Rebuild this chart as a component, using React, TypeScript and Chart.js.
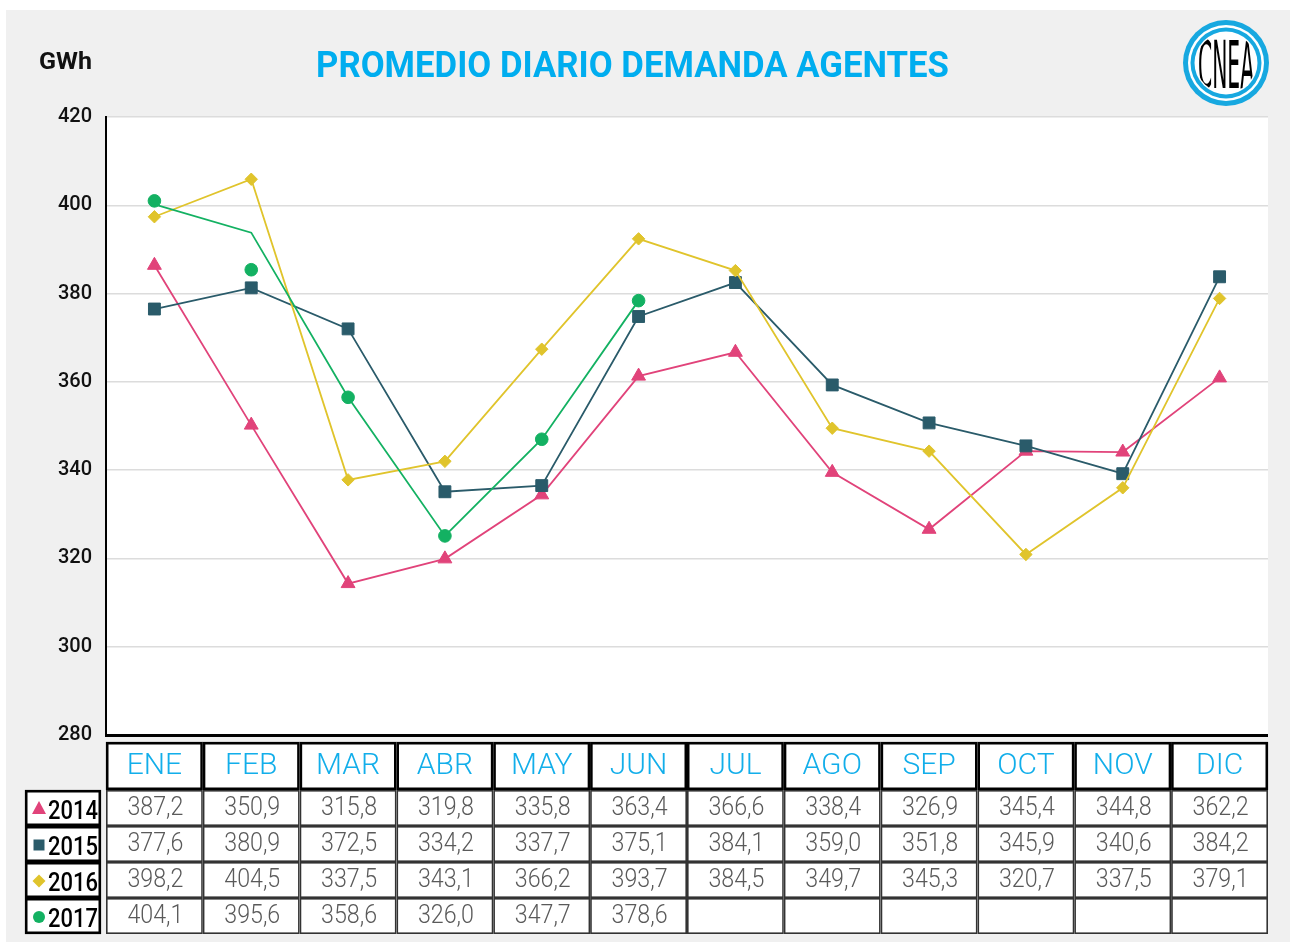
import React, { useEffect, useRef } from "react";
import { Chart, registerables } from "chart.js";

Chart.register(...registerables);

const TITLE = "PROMEDIO DIARIO DEMANDA AGENTES";
const UNIT = "GWh";
const LOGO_TEXT = "CNEA";

const MONTHS = ["ENE", "FEB", "MAR", "ABR", "MAY", "JUN", "JUL", "AGO", "SEP", "OCT", "NOV", "DIC"];
const YEARS = ["2014", "2015", "2016", "2017"];

// Values printed in the table
const TABLE_2014 = ["387,2", "350,9", "315,8", "319,8", "335,8", "363,4", "366,6", "338,4", "326,9", "345,4", "344,8", "362,2"];
const TABLE_2015 = ["377,6", "380,9", "372,5", "334,2", "337,7", "375,1", "384,1", "359,0", "351,8", "345,9", "340,6", "384,2"];
const TABLE_2016 = ["398,2", "404,5", "337,5", "343,1", "366,2", "393,7", "384,5", "349,7", "345,3", "320,7", "337,5", "379,1"];
const TABLE_2017 = ["404,1", "395,6", "358,6", "326,0", "347,7", "378,6", "", "", "", "", "", ""];

// Values as plotted in the chart
const PLOT_2014 = [386.4, 350.2, 314.3, 319.9, 334.4, 361.3, 366.7, 339.5, 326.6, 344.3, 344.1, 360.9];
const PLOT_2015 = [376.5, 381.3, 372.0, 335.1, 336.5, 374.8, 382.5, 359.3, 350.7, 345.5, 339.2, 383.8];
const PLOT_2016 = [397.4, 405.9, 337.8, 342.0, 367.4, 392.4, 385.2, 349.5, 344.3, 320.9, 336.0, 378.9];
const PLOT_2017_LINE = [400.2, 393.8, 356.5, 325.1, 347.0, 378.4];
const PLOT_2017_MARKERS = [401.0, 385.4, 356.5, 325.1, 347.0, 378.4];

const Y_MIN = 280;
const Y_MAX = 420;
const Y_STEP = 20;

const PINK = "#e1437a";
const TEAL = "#2a5b6a";
const YELLOW = "#e0c42c";
const GREEN = "#13b162";
const CYAN = "#12aeea";

const TABLES = [TABLE_2014, TABLE_2015, TABLE_2016, TABLE_2017];
const YEAR_COLORS = [PINK, TEAL, YELLOW, GREEN];
const YEAR_STYLES = ["triangle", "rect", "rectRot", "circle"];

function textFit(ctx: CanvasRenderingContext2D, text: string, x: number, y: number, font: string, color: string, align: CanvasTextAlign, width?: number) {
  ctx.save();
  ctx.font = font;
  ctx.fillStyle = color;
  ctx.textAlign = align;
  ctx.textBaseline = "alphabetic";
  ctx.translate(x, y);
  if (width) {
    const w = ctx.measureText(text).width;
    if (w > 0) ctx.scale(width / w, 1);
  }
  ctx.fillText(text, 0, 0);
  ctx.restore();
}

function marker(ctx: CanvasRenderingContext2D, style: string, x: number, y: number, color: string) {
  ctx.save();
  ctx.fillStyle = color;
  ctx.beginPath();
  if (style === "triangle") {
    ctx.moveTo(x, y - 8);
    ctx.lineTo(x + 7, y + 5);
    ctx.lineTo(x - 7, y + 5);
    ctx.closePath();
  } else if (style === "rect") {
    ctx.rect(x - 5.5, y - 5.5, 11, 11);
  } else if (style === "rectRot") {
    ctx.moveTo(x, y - 6.5);
    ctx.lineTo(x + 6.5, y);
    ctx.lineTo(x, y + 6.5);
    ctx.lineTo(x - 6.5, y);
    ctx.closePath();
  } else {
    ctx.arc(x, y, 6, 0, Math.PI * 2);
  }
  ctx.fill();
  ctx.restore();
}

const backgroundPlugin = {
  id: "pageBackground",
  beforeDraw(chart: any) {
    const { ctx, chartArea: a, width, height } = chart;
    ctx.save();
    ctx.fillStyle = "#ffffff";
    ctx.fillRect(0, 0, width, height);
    ctx.fillStyle = "#f0f0f0";
    ctx.fillRect(6, 10, width - 6, height - 10);
    ctx.fillStyle = "#ffffff";
    ctx.fillRect(a.left, a.top, a.right - a.left, a.bottom - a.top);
    ctx.restore();
  },
};

const decorPlugin = {
  id: "decor",
  afterDraw(chart: any) {
    const { ctx, chartArea: a } = chart;
    const x = chart.scales.x;
    // Title and unit
    textFit(ctx, TITLE, 316, 77, "bold 36px Roboto", "#00adef", "left", 633);
    textFit(ctx, UNIT, 39, 69, "bold 24px Roboto", "#111111", "left", 53);

    // Logo
    const lx = 1226, ly = 63;
    ctx.save();
    ctx.beginPath(); ctx.arc(lx, ly, 43, 0, Math.PI * 2); ctx.fillStyle = "#17a8e0"; ctx.fill();
    ctx.beginPath(); ctx.arc(lx, ly, 38, 0, Math.PI * 2); ctx.fillStyle = "#ffffff"; ctx.fill();
    ctx.beginPath(); ctx.arc(lx, ly, 35.5, 0, Math.PI * 2); ctx.fillStyle = "#17a8e0"; ctx.fill();
    ctx.beginPath(); ctx.arc(lx, ly, 31.5, 0, Math.PI * 2); ctx.fillStyle = "#ffffff"; ctx.fill();
    ctx.beginPath(); ctx.arc(lx, ly, 30, 0, Math.PI * 2); ctx.clip();
    textFit(ctx, LOGO_TEXT, lx, ly + 25, "66px 'DejaVu Sans Condensed', Roboto", "#000000", "center", 56);
    ctx.restore();

    // Table
    const n = MONTHS.length;
    const colW = (x.right - x.left) / n;
    const top = a.bottom + 7;
    const headH = 48;
    const rowH = 36;
    ctx.save();
    MONTHS.forEach((m, i) => {
      const cx = x.getPixelForValue(i);
      const x0 = cx - colW / 2;
      ctx.fillStyle = "#ffffff";
      ctx.fillRect(x0, top, colW, headH);
      ctx.strokeStyle = "#000000";
      ctx.lineWidth = 2.6;
      ctx.strokeRect(x0 + 1.2, top + 1.2, colW - 2.4, headH - 2.4);
      textFit(ctx, m, cx, top + 32, "300 30px Roboto", CYAN, "center");
    });
    const dTop = top + headH;
    TABLES.forEach((vals, r) => {
      const y0 = dTop + r * rowH;
      vals.forEach((v, i) => {
        const cx = x.getPixelForValue(i);
        const x0 = cx - colW / 2;
        ctx.fillStyle = "#ffffff";
        ctx.fillRect(x0, y0, colW, rowH);
        ctx.strokeStyle = "#333333";
        ctx.lineWidth = 1.6;
        ctx.strokeRect(x0 + 0.8, y0 + 0.8, colW - 1.6, rowH - 1.6);
        if (v) textFit(ctx, v, cx + 1, y0 + 25, "300 25px Roboto", "#5a5a5a", "center", 56);
      });
      // legend cell
      const lx0 = a.left - 81;
      const lw = 76;
      ctx.fillStyle = "#ffffff";
      ctx.fillRect(lx0, y0, lw, rowH);
      ctx.strokeStyle = "#000000";
      ctx.lineWidth = 2.6;
      ctx.strokeRect(lx0 + 1.2, y0 + 1.2, lw - 2.4, rowH - 2.4);
      marker(ctx, YEAR_STYLES[r], lx0 + 14, y0 + 19, YEAR_COLORS[r]);
      textFit(ctx, YEARS[r], lx0 + 23, y0 + 29, "500 26px Roboto", "#000000", "left", 50);
    });
    ctx.restore();
  },
};

export default function App() {
  const ref = useRef<HTMLCanvasElement | null>(null);

  useEffect(() => {
    if (!ref.current) return;
    Chart.defaults.font.family = "Roboto";
    const common = { borderWidth: 1.8, tension: 0, pointBorderWidth: 1 };
    const chart = new Chart(ref.current, {
      type: "line",
      data: {
        labels: MONTHS,
        datasets: [
          {
            label: YEARS[0], data: PLOT_2014, borderColor: PINK, backgroundColor: PINK,
            pointStyle: "triangle", pointRadius: 8, order: 4, ...common,
          },
          {
            label: YEARS[1], data: PLOT_2015, borderColor: TEAL, backgroundColor: TEAL,
            pointStyle: "rect", pointRadius: 8.4, order: 3, ...common,
          },
          {
            label: YEARS[2], data: PLOT_2016, borderColor: YELLOW, backgroundColor: YELLOW,
            pointStyle: "rectRot", pointRadius: 6.2, order: 2, ...common,
          },
          {
            label: YEARS[3], data: PLOT_2017_LINE, borderColor: GREEN, backgroundColor: GREEN,
            pointRadius: 0, order: 1, ...common,
          },
          {
            label: YEARS[3] + " ", data: PLOT_2017_MARKERS, borderColor: GREEN, backgroundColor: GREEN,
            pointStyle: "circle", pointRadius: 6.3, showLine: false, order: 0, ...common,
          },
        ] as any,
      },
      options: {
        responsive: false,
        animation: false,
        devicePixelRatio: 1,
        layout: { padding: { left: 0, right: 22, top: 117, bottom: 207 } },
        plugins: { legend: { display: false }, tooltip: { enabled: false }, title: { display: false } },
        scales: {
          x: { type: "category", display: false, offset: true },
          y: {
            min: Y_MIN,
            max: Y_MAX,
            ticks: { stepSize: Y_STEP, color: "#111111", padding: 14, font: { family: "Roboto", size: 20, weight: "500" } },
            grid: {
              drawTicks: false,
              color: (c: any) => (c.tick && c.tick.value === Y_MIN ? "#000000" : "#dcdcdc"),
              lineWidth: (c: any) => (c.tick && c.tick.value === Y_MIN ? 3 : 1.5),
            },
            border: { display: true, color: "#000000", width: 2 },
            afterFit: (s: any) => { s.width = 106; },
          },
        },
      } as any,
      plugins: [backgroundPlugin, decorPlugin],
    });
    return () => chart.destroy();
  }, []);

  return (
    <div style={{ position: "fixed", left: 0, top: 0, width: 1290, height: 942 }}>
      <canvas ref={ref} width={1290} height={942} style={{ display: "block" }} />
    </div>
  );
}
